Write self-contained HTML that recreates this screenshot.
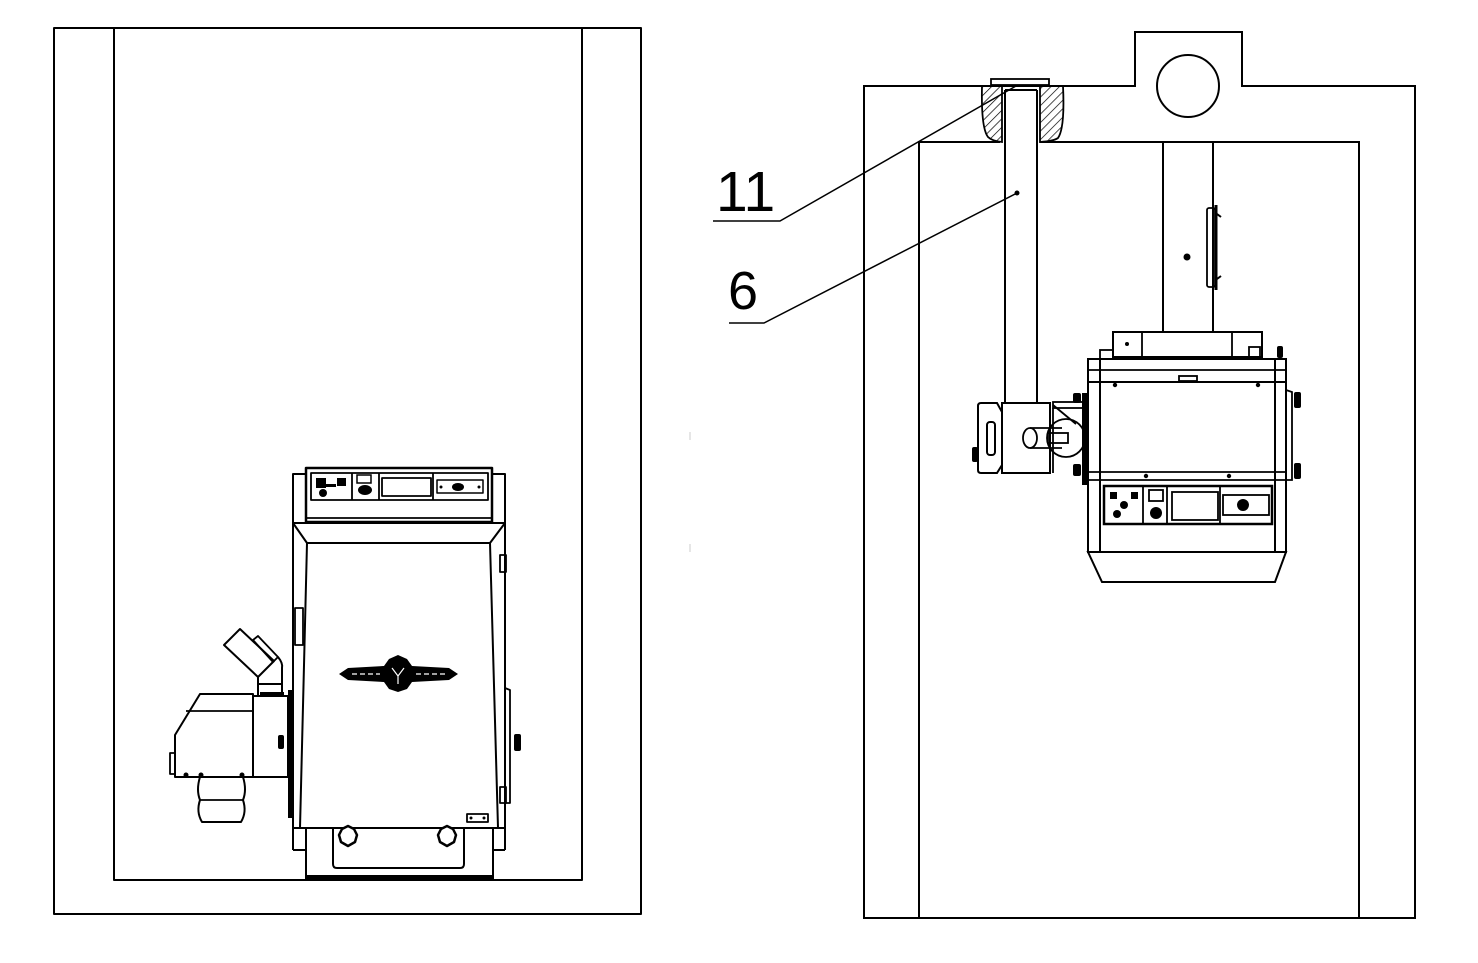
<!DOCTYPE html>
<html><head><meta charset="utf-8"><style>
html,body{margin:0;padding:0;background:#fff;}
svg{display:block;}
text{font-family:"Liberation Sans",Arial,sans-serif;fill:#000;}
</style></head><body>
<svg width="1478" height="963" viewBox="0 0 1478 963" xmlns="http://www.w3.org/2000/svg">
<defs>
<pattern id="hatch" patternUnits="userSpaceOnUse" width="6" height="6" patternTransform="rotate(45)">
<line x1="0" y1="0" x2="0" y2="6" stroke="#000" stroke-width="1.4"/>
</pattern>
</defs>
<g fill="none" stroke="#000" stroke-width="2" stroke-linejoin="round">
<!-- LEFT ROOM -->
<rect x="54" y="28" width="587" height="886"/>
<polyline points="114,28 114,880 582,880 582,28"/>

<!-- LEFT BOILER -->
<polyline points="293,850 293,474 306,474"/>
<polyline points="505,850 505,474 492,474"/>
<rect x="306" y="468" width="186" height="54" stroke-width="2.5"/>
<rect x="311" y="473" width="177" height="27" stroke-width="1.8"/>
<line x1="306" y1="518" x2="492" y2="518" stroke-width="1.8"/>
<line x1="352" y1="473" x2="352" y2="500" stroke-width="1.8"/>
<line x1="379" y1="473" x2="379" y2="500" stroke-width="1.8"/>
<line x1="433" y1="473" x2="433" y2="500" stroke-width="1.8"/>
<rect x="382" y="478" width="49" height="18" stroke-width="1.8"/>
<rect x="437" y="480" width="46" height="13" stroke-width="1.5"/>
<polygon points="293,523 505,523 490,543 307,543"/>
<polygon points="307,543 490,543 498,828 300,828"/>
<line x1="293" y1="828" x2="505" y2="828"/>
<line x1="306" y1="828" x2="306" y2="878"/>
<line x1="493" y1="828" x2="493" y2="878"/>
<line x1="293" y1="850" x2="306" y2="850"/>
<line x1="493" y1="850" x2="505" y2="850"/>
<line x1="305" y1="877" x2="494" y2="877" stroke-width="4"/>
<path d="M333,828 V864 Q333,868 337,868 H460 Q464,868 464,864 V828"/>
<rect x="295" y="608" width="8" height="37" stroke-width="1.8"/>
<rect x="500" y="555" width="6" height="17" stroke-width="1.8"/>
<rect x="500" y="787" width="6" height="16" stroke-width="1.8"/>
<polyline points="505,688 510,690 510,803 505,803" stroke-width="1.8"/>
<rect x="467" y="814" width="21" height="8" stroke-width="1.8"/>
<!-- burner left -->
<polygon points="200,694 253,694 253,777 175,777 175,735"/>
<line x1="186" y1="711" x2="253" y2="711" stroke-width="1.8"/>
<rect x="170" y="753" width="5" height="21" stroke-width="1.8"/>
<rect x="253" y="696" width="35" height="81"/>
<path d="M200,777 Q196,790 200,800 Q196,812 202,822 L241,822 Q247,812 243,800 Q247,790 243,777"/>
<line x1="200" y1="800" x2="243" y2="800" stroke-width="1.8"/>
<polygon points="224,645 240,629 274,661 258,677"/>
<polygon points="253,640 258,636 278,657 273,662" stroke-width="1.8"/>
<path d="M258,677 V695 M278,657 Q283,663 282,668 V695 M258,684 H282"/>
</g>
<g fill="#000" stroke="none">
<rect x="316" y="478" width="10" height="10"/>
<rect x="337" y="478" width="9" height="8"/>
<circle cx="323" cy="493" r="4"/>
<rect x="326" y="484" width="10" height="3"/>
<ellipse cx="365" cy="490" rx="7" ry="5"/>
<ellipse cx="458" cy="487" rx="6" ry="4"/>
<circle cx="441" cy="487" r="1.5"/>
<circle cx="479" cy="487" r="1.5"/>
<circle cx="471" cy="818" r="1.5"/>
<circle cx="484" cy="818" r="1.5"/>
<!-- emblem -->
<path d="M339,674 L348,668 L384,666 L389,659 L398,655 L407,659 L412,666 L449,668 L458,674 L449,680 L412,682 L407,689 L398,692 L389,689 L384,682 L348,680 Z"/>
<circle cx="186" cy="775" r="2.5"/>
<circle cx="201" cy="775" r="2.5"/>
<circle cx="242" cy="775" r="2.5"/>
<rect x="288" y="690" width="4" height="128"/>
<rect x="278" y="735" width="6" height="14" rx="2"/>
<rect x="514" y="734" width="7" height="17" rx="2"/>
<rect x="260" y="692" width="24" height="4"/>
</g>
<g fill="none" stroke="#fff" stroke-width="1.2">
<path d="M352,674 H380 M416,674 H446" stroke-dasharray="5,3"/>
<path d="M392,668 L398,676 L404,668 M398,676 V684"/>
</g>
<rect x="357" y="475" width="14" height="8" fill="#fff" stroke="#000" stroke-width="1.5"/>
<g fill="#fff" stroke="#000" stroke-width="2.5" stroke-linejoin="round">
<polygon points="348,826 354,829 357,835 355,842 348,846 341,842 339,835 342,829"/>
<polygon points="447,826 453,829 456,835 454,842 447,846 440,842 438,835 441,829"/>
</g>

<!-- RIGHT ROOM -->
<g fill="none" stroke="#000" stroke-width="2" stroke-linejoin="miter">
<polygon points="864,86 1135,86 1135,32 1242,32 1242,86 1415,86 1415,918 864,918"/>
<polyline points="919,918 919,142 1000,142"/>
<polyline points="1040,142 1359,142 1359,918"/>
<circle cx="1188" cy="86" r="31"/>
<path d="M982,86 Q981,128 988,137 Q992,141 1002,142 L1002,86 Z" fill="url(#hatch)" stroke-width="1.8"/>
<path d="M1040,86 L1063,86 Q1065,128 1058,138 Q1054,141 1040,142 Z" fill="url(#hatch)" stroke-width="1.8"/>
<rect x="991" y="79" width="58" height="6" fill="#fff" stroke-width="1.8"/>
<line x1="1005" y1="90" x2="1037" y2="90"/>
<line x1="1005" y1="90" x2="1005" y2="403"/>
<line x1="1037" y1="90" x2="1037" y2="403"/>
<line x1="1163" y1="142" x2="1163" y2="332"/>
<line x1="1213" y1="142" x2="1213" y2="332"/>
<rect x="1207" y="208" width="8" height="79" rx="2" stroke-width="1.8"/>
<line x1="1216" y1="205" x2="1216" y2="290" stroke-width="3"/>
<path d="M1217,214 l4,3 M1217,279 l4,-3" stroke-width="2"/>
<rect x="1113" y="332" width="149" height="25"/>
<line x1="1142" y1="332" x2="1142" y2="357" stroke-width="1.8"/>
<line x1="1232" y1="332" x2="1232" y2="357" stroke-width="1.8"/>
<rect x="1249" y="347" width="11" height="10" stroke-width="1.8"/>
<rect x="1100" y="350" width="13" height="9" stroke-width="1.8"/>
<rect x="1088" y="359" width="198" height="193"/>
<line x1="1100" y1="359" x2="1100" y2="552"/>
<line x1="1275" y1="359" x2="1275" y2="552"/>
<line x1="1088" y1="370" x2="1286" y2="370" stroke-width="1.8"/>
<line x1="1088" y1="382" x2="1286" y2="382"/>
<line x1="1088" y1="472" x2="1286" y2="472" stroke-width="1.8"/>
<line x1="1088" y1="480" x2="1286" y2="480" stroke-width="1.8"/>
<rect x="1179" y="376" width="18" height="5" stroke-width="1.8"/>
<polygon points="1088,552 1286,552 1275,582 1102,582"/>
<polyline points="1286,390 1292,392 1292,480 1286,480" stroke-width="1.8"/>
<rect x="1104" y="486" width="168" height="38" stroke-width="2.5"/>
<line x1="1143" y1="486" x2="1143" y2="524" stroke-width="1.8"/>
<line x1="1167" y1="486" x2="1167" y2="524" stroke-width="1.8"/>
<rect x="1172" y="492" width="46" height="28" stroke-width="1.8"/>
<line x1="1220" y1="486" x2="1220" y2="524" stroke-width="1.8"/>
<rect x="1223" y="495" width="46" height="20" stroke-width="1.8"/>
<rect x="1149" y="490" width="14" height="11" stroke-width="1.8"/>
<path d="M981,403 H997 L1002,412 V465 L997,473 H981 Q978,473 978,470 V406 Q978,403 981,403 Z"/>
<rect x="1002" y="403" width="48" height="70"/>
<rect x="987" y="422" width="8" height="33" rx="3" stroke-width="2"/>
<path d="M1030,428 H1062 M1030,448 H1062" stroke-width="1.8"/>
<ellipse cx="1030" cy="438" rx="7" ry="10" stroke-width="1.8"/>
<circle cx="1066" cy="438" r="19" stroke-width="1.8"/>
<rect x="1048" y="433" width="20" height="10" stroke-width="1.8"/>
<rect x="1053" y="402" width="30" height="6" stroke-width="1.8"/>
<line x1="1053" y1="405" x2="1076" y2="424" stroke-width="1.8"/>
<line x1="1053" y1="408" x2="1053" y2="473" stroke-width="1.8"/>
</g>
<g fill="#000" stroke="none">
<circle cx="1017" cy="193" r="2.5"/>
<circle cx="1187" cy="257" r="3.5"/>
<circle cx="1127" cy="344" r="2"/>
<rect x="1277" y="346" width="6" height="12" rx="2"/>
<circle cx="1115" cy="385" r="2.2"/>
<circle cx="1258" cy="385" r="2.2"/>
<circle cx="1146" cy="476" r="2.2"/>
<circle cx="1229" cy="476" r="2.2"/>
<rect x="1294" y="392" width="7" height="16" rx="2"/>
<rect x="1294" y="463" width="7" height="16" rx="2"/>
<rect x="1082" y="393" width="6" height="92"/>
<rect x="1073" y="393" width="8" height="10" rx="2"/>
<rect x="1073" y="464" width="8" height="12" rx="2"/>
<rect x="972" y="447" width="6" height="15" rx="2"/>
<rect x="1110" y="492" width="7" height="7"/>
<rect x="1131" y="492" width="7" height="7"/>
<circle cx="1124" cy="505" r="4"/>
<circle cx="1117" cy="514" r="4"/>
<circle cx="1156" cy="513" r="6"/>
<circle cx="1243" cy="505" r="6"/>
</g>
<g fill="none" stroke="#000" stroke-width="1.5">
<polyline points="713,221 780,221 1016,86"/>
<polyline points="729,323 764,323 1017,193"/>
</g>
<text x="716" y="211" font-size="57">11</text>
<text x="728" y="309" font-size="54">6</text>
<g stroke="#ccc" stroke-width="1">
<line x1="690" y1="432" x2="690" y2="440"/>
<line x1="690" y1="544" x2="690" y2="552"/>
</g>
</svg>
</body></html>
